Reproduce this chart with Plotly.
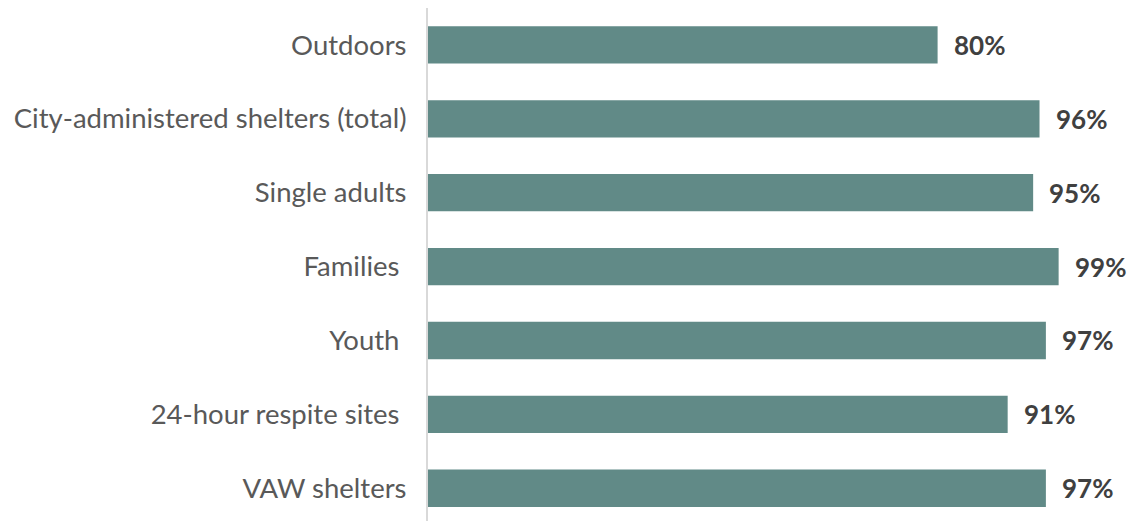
import plotly.graph_objects as go

categories = ["Outdoors", "City-administered shelters (total)", "Single adults",
              "Families\u00a0", "Youth\u00a0", "24-hour respite sites\u00a0", "VAW shelters"]
values = [80, 96, 95, 99, 97, 91, 97]
labels = ["80%", "96%", "95%", "99%", "97%", "91%", "97%"]

BAR = "#618A87"
W, H = 1130, 521
L, R = 427.7, 1065.2
T = 7.7
spacing = 73.93
n_vis = (H - T) / spacing

fig = go.Figure()
fig.add_trace(go.Bar(
    y=categories, x=values, orientation="h",
    marker=dict(color=BAR, line=dict(width=0)),
    hoverinfo="skip",
))
for c, v, t in zip(categories, values, labels):
    fig.add_annotation(x=v, y=c, text=t, showarrow=False, xanchor="left",
                       xshift=14, yanchor="middle",
                       font=dict(family="Lato", size=26, color="#404040", weight="bold"))

fig.update_layout(
    width=W, height=H,
    margin=dict(l=L, r=W - R, t=T, b=0, pad=0),
    paper_bgcolor="white", plot_bgcolor="white",
    bargap=0.495, showlegend=False,
    font=dict(family="Lato", size=27.5, color="#595959"),
)
fig.update_xaxes(range=[0, 100], visible=False, fixedrange=True)
fig.update_yaxes(
    type="category", categoryorder="array", categoryarray=categories,
    range=[-0.5 + n_vis, -0.5],
    showline=True, linecolor="#D9D9D9", linewidth=2,
    showgrid=False, zeroline=False, ticks="",
    ticklabelstandoff=14, fixedrange=True,
    tickfont=dict(family="Lato", size=27.5, color="#595959"),
)
fig.write_html("out.html", config={"displayModeBar": False, "staticPlot": True},
               post_script="document.body.style.margin='0';document.body.style.overflow='hidden';")
